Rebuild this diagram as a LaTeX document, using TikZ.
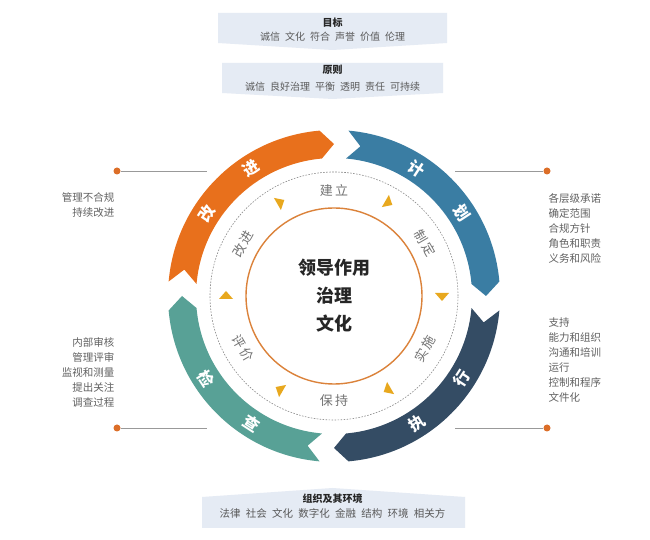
\documentclass[tikz,border=0pt]{standalone}
\usepackage{fontspec}
\setmainfont{Noto Sans CJK SC}
\usetikzlibrary{arrows.meta,calc,positioning}
\definecolor{cOrange}{HTML}{E8701C}
\definecolor{cBlue}{HTML}{3A7DA3}
\definecolor{cNavy}{HTML}{344C64}
\definecolor{cTeal}{HTML}{58A196}
\definecolor{cGold}{HTML}{E8A81E}
\definecolor{cCore}{HTML}{DB823A}
\definecolor{cDot}{HTML}{DC6E28}
\definecolor{cBox}{HTML}{E5EBF4}
\tikzset{ringtxt/.style={text=white,font=\bfseries\fontsize{16}{16}\selectfont},
  steptxt/.style={text=black!55,font=\fontsize{13}{13}\selectfont},
  sidetxt/.style={text=black!62,font=\fontsize{10.5}{15}\selectfont},
  boxtitle/.style={text=black!85,font=\bfseries\fontsize{10}{10}\selectfont},
  boxsub/.style={text=black!65,font=\fontsize{10}{10}\selectfont},
  enddot/.style={circle,fill=cDot,inner sep=0pt,minimum size=7pt}}

\begin{document}
\begin{tikzpicture}[x=1pt,y=1pt,line join=round]
\useasboundingbox[fill=white] (0,0) rectangle (650,540);
\coordinate (C) at (334,244);
% --- ring: four chevron arcs, clockwise
\foreach \a/\col/\one/\two/\r [count=\i] in {175/cOrange/改/进/-90, 85/cBlue/计/划/-90, -5/cNavy/行/执/90, -95/cTeal/查/检/90} {
\fill[\col,shift={(C)}] (\a:166) arc[start angle=\a,end angle=\a-80,radius=166pt] -- (\a-85:152) -- (\a-80:138) arc[start angle=\a-80,end angle=\a,radius=138pt] -- (\a-5:152) -- cycle;
\node[ringtxt,rotate=\a-28+\r] (ring\i a) at ($(C)+(\a-28:152)$) {\one};
\node[ringtxt,rotate=\a-52+\r] (ring\i b) at ($(C)+(\a-52:152)$) {\two};
}
% --- inner dashed circle, small triangles and step labels
\draw[black!45,line width=0.6pt,dash pattern=on 1.6pt off 1.4pt] (C) circle[radius=124pt];
\foreach \t in {0,60,...,300} {\fill[cGold,shift={(C)},rotate=\t] (108,-5) -- (101,3) -- (115,3) -- cycle;}
\foreach \t/\rot/\txt [count=\i] in {90/0/建\,立, 30/-60/制\,定, -30/60/实\,施, -90/0/保\,持, -150/-60/评\,价, 150/60/改\,进} {
\node[steptxt,rotate=\rot] (step\i) at ($(C)+(\t:105)$) {\txt};
}
% --- core
\draw[cCore,line width=1.4pt] (C) circle[radius=88pt];
\node[align=center,font=\bfseries\fontsize{18}{28}\selectfont,text=black!85] (core) at (C) {领导作用\\治理\\文化};
% --- side lines and texts
\node[enddot] (dotTL) at (117,369) {};
\node[enddot] (dotTR) at (547,369) {};
\node[enddot] (dotBL) at (117,112) {};
\node[enddot] (dotBR) at (547,112) {};
\coordinate (endTL) at (207,369);
\coordinate (endTR) at (455,369);
\coordinate (endBL) at (207,112);
\coordinate (endBR) at (455,112);
\draw[black!40,line width=0.8pt] (dotTL) -- (endTL) (dotTR) -- (endTR) (dotBL) -- (endBL) (dotBR) -- (endBR);
\node[sidetxt,align=right,anchor=east] (txtTL) at (118,334.5) {管理不合规\\持续改进};
\node[sidetxt,align=right,anchor=east] (txtBL) at (118,168) {内部审核\\管理评审\\监视和测量\\提出关注\\调查过程};
\node[sidetxt,align=left,anchor=west] (txtTR) at (545,312) {各层级承诺\\确定范围\\合规方针\\角色和职责\\义务和风险};
\node[sidetxt,align=left,anchor=west] (txtBR) at (545,179.5) {支持\\能力和组织\\沟通和培训\\运行\\控制和程序\\文件化};
% --- boxes on top and at the bottom
\fill[cBox] (218,527) -- (447,527) -- (447,497) -- (332.5,490) -- (218,497) -- cycle;
\node[boxtitle] (goalT) at (332.5,517) {目标};
\node[boxsub] (goalS) at (332.5,503) {诚信\enspace 文化\enspace 符合\enspace 声誉\enspace 价值\enspace 伦理};
\fill[cBox] (222,477) -- (443,477) -- (443,447) -- (332.5,441) -- (222,447) -- cycle;
\node[boxtitle] (ruleT) at (332.5,470) {原则};
\node[boxsub] (ruleS) at (332.5,453) {诚信\enspace 良好治理\enspace 平衡\enspace 透明\enspace 责任\enspace 可持续};
\fill[cBox] (202,43) -- (332.5,52) -- (465,43) -- (465,12) -- (202,12) -- cycle;
\node[boxtitle] (envT) at (332.5,41) {组织及其环境};
\node[boxsub,font=\fontsize{10.5}{10.5}\selectfont] (envS) at (332.5,27) {法律\enspace 社会\enspace 文化\enspace 数字化\enspace 金融\enspace 结构\enspace 环境\enspace 相关方};
\end{tikzpicture}
\end{document}
